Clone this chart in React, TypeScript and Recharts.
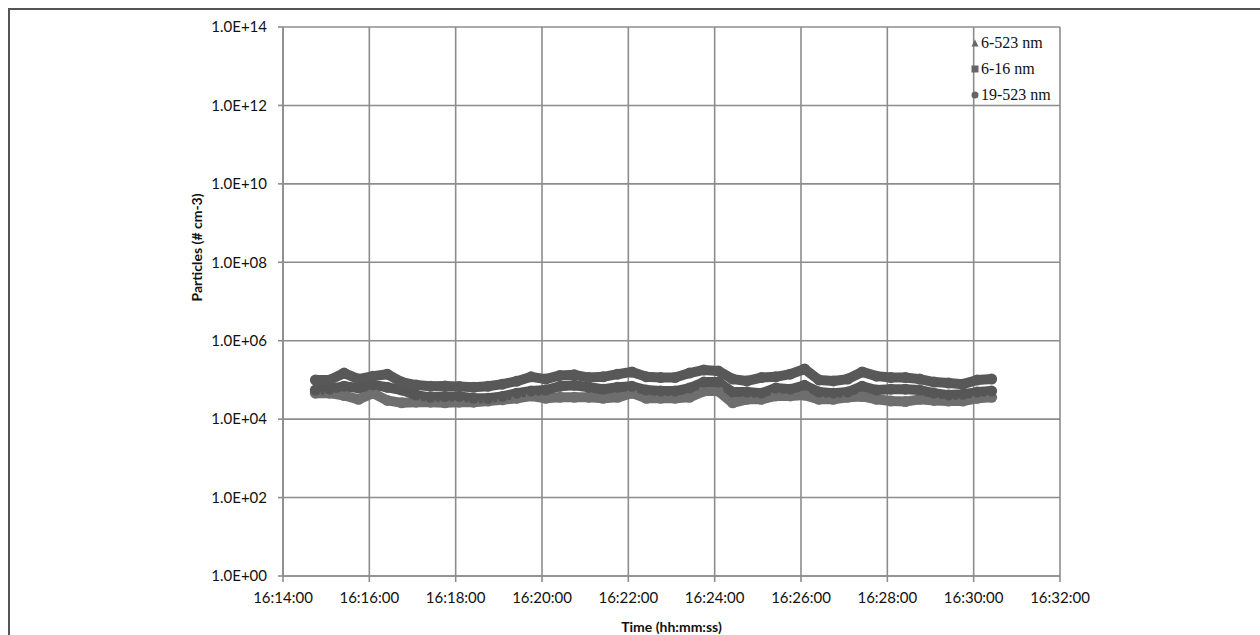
import { CartesianGrid, Line, LineChart, XAxis, YAxis } from 'recharts';

// seconds after 16:14:00, one sample every 20 s
const TIME_S = [
  45, 65, 85, 105, 125, 145, 165, 185, 205, 225, 245, 265, 285, 305, 325, 345,
  365, 385, 405, 425, 445, 465, 485, 505, 525, 545, 565, 585, 605, 625, 645, 665,
  685, 705, 725, 745, 765, 785, 805, 825, 845, 865, 885, 905, 925, 945, 965, 985,
];

// particle number concentration, # cm-3
const TOTAL_6_523 = [
  9.9e4, 1.0e5, 1.5e5, 1.05e5, 1.25e5, 1.4e5, 8.8e4, 7.4e4, 6.9e4, 7.0e4, 6.8e4, 6.5e4, 6.9e4, 7.8e4, 9.3e4, 1.2e5,
  1.05e5, 1.3e5, 1.35e5, 1.15e5, 1.2e5, 1.4e5, 1.6e5, 1.2e5, 1.15e5, 1.15e5, 1.5e5, 1.8e5, 1.7e5, 1.05e5, 9.4e4, 1.15e5,
  1.2e5, 1.4e5, 1.9e5, 1.0e5, 9.4e4, 1.05e5, 1.6e5, 1.25e5, 1.15e5, 1.15e5, 1.05e5, 8.8e4, 8.3e4, 7.8e4, 1.0e5, 1.05e5,
];
const NUC_6_16 = [
  5.5e4, 5.8e4, 6.9e4, 6.2e4, 7.5e4, 6.5e4, 5.5e4, 4.1e4, 3.6e4, 3.8e4, 3.8e4, 3.4e4, 3.4e4, 3.8e4, 4.6e4, 5.2e4,
  5.5e4, 6.9e4, 7.3e4, 6.5e4, 5.8e4, 6.5e4, 6.9e4, 5.5e4, 5.2e4, 5.2e4, 6.2e4, 8.8e4, 8.8e4, 4.9e4, 4.9e4, 4.6e4,
  6.2e4, 5.8e4, 7.3e4, 4.9e4, 4.6e4, 4.9e4, 6.9e4, 5.5e4, 5.8e4, 5.8e4, 5.5e4, 4.6e4, 4.1e4, 4.3e4, 4.9e4, 5.2e4,
];
const ACC_19_523 = [
  4.6e4, 4.6e4, 4.0e4, 3.2e4, 4.6e4, 3.0e4, 2.6e4, 2.7e4, 2.7e4, 2.6e4, 2.7e4, 2.7e4, 2.9e4, 3.1e4, 3.4e4, 3.9e4,
  3.4e4, 3.6e4, 3.6e4, 3.6e4, 3.4e4, 3.6e4, 4.6e4, 3.4e4, 3.4e4, 3.4e4, 3.6e4, 5.2e4, 5.2e4, 2.6e4, 3.2e4, 3.2e4,
  3.9e4, 3.9e4, 4.1e4, 3.2e4, 3.2e4, 3.6e4, 3.8e4, 3.2e4, 2.9e4, 2.8e4, 3.2e4, 3.0e4, 2.9e4, 2.9e4, 3.4e4, 3.6e4,
];

const X_TICKS = [0, 120, 240, 360, 480, 600, 720, 840, 960, 1080];
const Y_TICKS = [1, 1e2, 1e4, 1e6, 1e8, 1e10, 1e12, 1e14];

const SERIES_NAMES = ['6-523 nm', '6-16 nm', '19-523 nm'];

const rows = TIME_S.map((t, i) => ({
  t,
  total: TOTAL_6_523[i],
  nuc: NUC_6_16[i],
  acc: ACC_19_523[i],
}));

const GRID = '#8c8c8c';
const AXIS_FONT = 'Lato, "Open Sans", sans-serif';

function fmtTime(s: number): string {
  const total = 14 * 60 + s;
  const mm = Math.floor(total / 60);
  const ss = total % 60;
  return `16:${String(mm).padStart(2, '0')}:${String(ss).padStart(2, '0')}`;
}

function fmtExp(v: number): string {
  const e = Math.round(Math.log10(v));
  return `1.0E+${String(e).padStart(2, '0')}`;
}

function Marker({ kind }: { kind: number }) {
  const fill = '#666';
  return (
    <svg width={8} height={8} style={{ marginRight: 2 }}>
      {kind === 0 && <polygon points="4,0.5 7.5,7.5 0.5,7.5" fill={fill} />}
      {kind === 1 && <rect x={0.5} y={0.5} width={7} height={7} fill={fill} />}
      {kind === 2 && <circle cx={4} cy={4} r={3.5} fill={fill} />}
    </svg>
  );
}

export default function App() {
  return (
    <div style={{ position: 'absolute', left: 0, top: 0, width: 1260, height: 635, overflow: 'hidden', background: '#fff' }}>
      <div
        style={{
          position: 'absolute',
          left: 8,
          top: 8,
          width: 1270,
          height: 640,
          borderLeft: '2px solid #555',
          borderTop: '2px solid #555',
        }}
      />
      <LineChart
        width={1260}
        height={635}
        data={rows}
        margin={{ top: 27, right: 200, left: 0, bottom: 0 }}
        style={{ position: 'absolute', left: 0, top: 0 }}
      >
        <CartesianGrid stroke={GRID} strokeWidth={1.6} />
        <XAxis
          dataKey="t"
          type="number"
          domain={[0, 1080]}
          ticks={X_TICKS}
          tickFormatter={fmtTime}
          height={59}
          tickSize={6}
          tickMargin={10}
          axisLine={{ stroke: GRID, strokeWidth: 1.6 }}
          tickLine={{ stroke: GRID, strokeWidth: 1.6 }}
          tick={{ fill: '#111', fontSize: 15, fontFamily: AXIS_FONT }}
          label={{
            value: 'Time (hh:mm:ss)',
            position: 'insideBottom',
            offset: 3,
            fill: '#111',
            fontSize: 14,
            fontWeight: 700,
            fontFamily: AXIS_FONT,
          }}
        />
        <YAxis
          scale="log"
          domain={[1, 1e14]}
          ticks={Y_TICKS}
          allowDataOverflow
          tickFormatter={fmtExp}
          width={283}
          tickSize={5}
          tickMargin={11}
          axisLine={{ stroke: GRID, strokeWidth: 1.6 }}
          tickLine={{ stroke: GRID, strokeWidth: 1.6 }}
          tick={{ fill: '#111', fontSize: 15, fontFamily: AXIS_FONT }}
          label={{
            value: 'Particles (# cm-3)',
            angle: -90,
            position: 'insideLeft',
            offset: 197,
            fill: '#111',
            fontSize: 14,
            fontWeight: 700,
            fontFamily: AXIS_FONT,
          }}
        />
        <Line
          dataKey="acc"
          name={SERIES_NAMES[2]}
          stroke="#6e6e6e"
          strokeWidth={10}
          strokeLinejoin="round"
          dot={{ r: 5.5, fill: '#6e6e6e', stroke: 'none' }}
          type="linear"
          isAnimationActive={false}
        />
        <Line
          dataKey="nuc"
          name={SERIES_NAMES[1]}
          stroke="#565656"
          strokeWidth={10}
          strokeLinejoin="round"
          dot={{ r: 5.5, fill: '#565656', stroke: 'none' }}
          type="linear"
          isAnimationActive={false}
        />
        <Line
          dataKey="total"
          name={SERIES_NAMES[0]}
          stroke="#585858"
          strokeWidth={10}
          strokeLinejoin="round"
          dot={{ r: 5.5, fill: '#585858', stroke: 'none' }}
          type="linear"
          isAnimationActive={false}
        />
      </LineChart>
      <div
        style={{
          position: 'absolute',
          left: 971,
          top: 30,
          fontFamily: '"Liberation Serif", "Times New Roman", serif',
          fontSize: 16,
          color: '#111',
          lineHeight: '26px',
        }}
      >
        {SERIES_NAMES.map((n, i) => (
          <div key={n} style={{ display: 'flex', alignItems: 'center' }}>
            <Marker kind={i} />
            <span>{n}</span>
          </div>
        ))}
      </div>
    </div>
  );
}
